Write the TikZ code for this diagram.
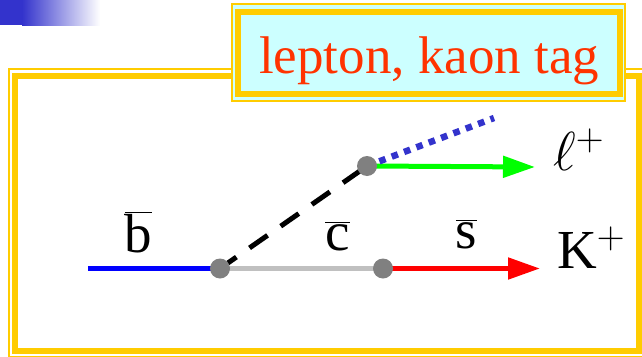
\RequirePackage{fix-cm}
\documentclass[tikz,border=0pt]{standalone}
\usepackage{fontspec}
\setmainfont{Liberation Serif}
\usetikzlibrary{arrows.meta}
\definecolor{frameyellow}{HTML}{FFCC00}
\definecolor{tagcyan}{HTML}{CCFFFF}
\definecolor{tagred}{HTML}{FF3300}
\definecolor{gradblue}{HTML}{3333CC}
\definecolor{dotgray}{HTML}{808080}
\definecolor{lightgray}{HTML}{C0C0C0}
\definecolor{lgreen}{HTML}{00FF00}
\definecolor{pblue}{HTML}{0000FF}
\pgfdeclarelayer{bg}
\pgfsetlayers{bg,main}
\tikzset{
  vertex/.style={circle,fill=dotgray,inner sep=0pt,minimum size=20pt},
  track/.style={line width=5pt},
  bigtip/.style={-{Triangle[length=32pt,width=21pt]}},
  lbl/.style={inner sep=0pt,anchor=base,font=\fontsize{55}{60}\selectfont},
}
\begin{document}
\begin{tikzpicture}[x=1pt,y=-1pt]
\useasboundingbox (0,0) rectangle (642,356);
% top-left gradient bar
\fill[gradblue] (0,0) rectangle (22,25);
\shade[left color=gradblue,right color=white] (22,0) rectangle (100,25);
% main frame (thin outer, thick inner)
\draw[frameyellow,line width=2pt] (9,69) rectangle (645,357);
\draw[frameyellow,line width=6pt] (15,76) rectangle (639,351);
% tag box
\filldraw[draw=frameyellow,fill=tagcyan,line width=2pt] (232,4) rectangle (625,101);
\draw[frameyellow,line width=6pt] (237.5,11.5) rectangle (619.5,94);
\node[inner sep=0pt,anchor=base,text=tagred,font=\fontsize{53}{58}\selectfont] (title) at (429,73) {lepton, kaon tag};
% vertices
\coordinate (bstart) at (88,268.5);
\node[vertex] (d1) at (220,268.5) {};
\node[vertex] (d2) at (383,268.5) {};
\node[vertex] (d3) at (367,166) {};
\coordinate (kend) at (540,268.5);
\coordinate (lend) at (535,167);
\coordinate (nuend) at (494,118);
\begin{pgfonlayer}{bg}
\draw[track,pblue] (bstart) -- (d1.center);
\draw[track,lightgray] (d1.center) -- (d2.center);
\draw[track,red,bigtip] (d2.center) -- (kend);
\draw[track,black,dash pattern=on 22pt off 16pt,dash phase=2pt] (d1.center) -- (d3.center);
\draw[track,lgreen,bigtip] (d3.center) -- (lend);
\draw[line width=6.5pt,gradblue,dash pattern=on 6.6pt off 6.6pt] (d3.center) -- (nuend);
\end{pgfonlayer}
% labels
\node[lbl] (lb) at (138.5,252) {$\overline{\hbox{b}}$};
\node[lbl] (lc) at (337.5,250) {$\overline{\hbox{c}}$};
\node[lbl] (ls) at (466.5,248) {$\overline{\hbox{s}}$};
\node[lbl,anchor=base west] (lell) at (553,170) {$\ell^{+}$};
\node[lbl,anchor=base west] (lK) at (557,268) {K$^{+}$};
\end{tikzpicture}
\end{document}
